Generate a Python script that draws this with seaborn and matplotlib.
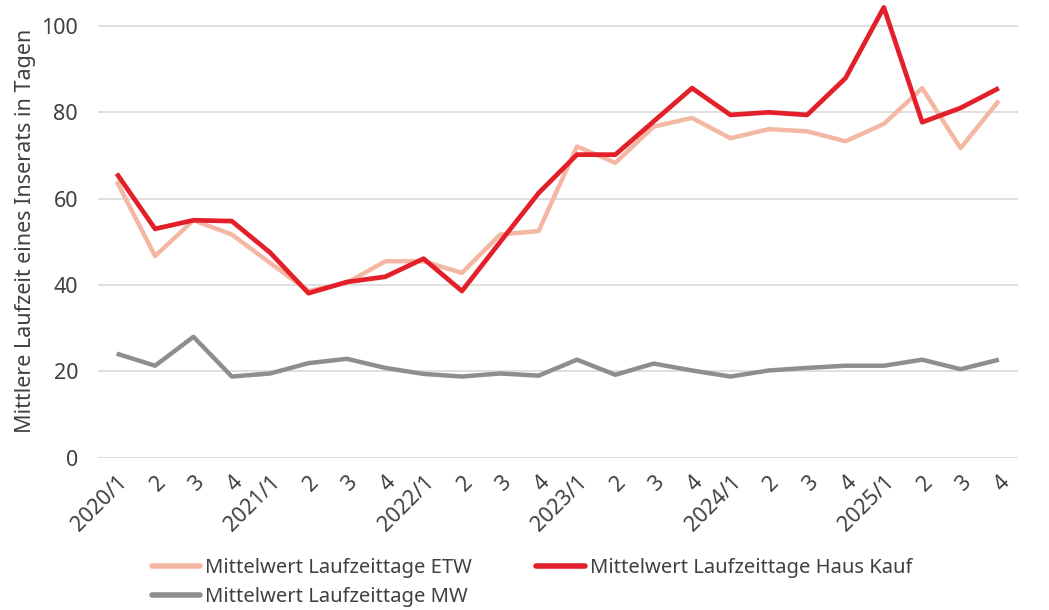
import numpy as np
import pandas as pd
import seaborn as sns
import matplotlib.pyplot as plt

quarters = ["2020/1", "2020/2", "2020/3", "2020/4",
            "2021/1", "2021/2", "2021/3", "2021/4",
            "2022/1", "2022/2", "2022/3", "2022/4",
            "2023/1", "2023/2", "2023/3", "2023/4",
            "2024/1", "2024/2", "2024/3", "2024/4",
            "2025/1", "2025/2", "2025/3", "2025/4"]
tick_labels = ["2020/1", "2", "3", "4", "2021/1", "2", "3", "4",
               "2022/1", "2", "3", "4", "2023/1", "2", "3", "4",
               "2024/1", "2", "3", "4", "2025/1", "2", "3", "4"]

etw = [64.0, 46.7, 55.0, 51.7, 45.1, 38.6, 40.5, 45.5, 45.5, 42.8, 51.7, 52.5,
       72.1, 68.3, 76.7, 78.7, 74.0, 76.1, 75.6, 73.3, 77.3, 85.6, 71.7, 82.7]
haus = [65.8, 53.0, 55.0, 54.8, 47.5, 38.1, 40.7, 41.9, 46.1, 38.6, 50.0, 61.3,
        70.2, 70.2, 77.9, 85.6, 79.4, 80.0, 79.4, 87.9, 104.3, 77.7, 81.0, 85.6]
mw = [24.1, 21.3, 28.0, 18.8, 19.5, 21.9, 22.9, 20.8, 19.4, 18.8, 19.5, 19.0,
      22.7, 19.2, 21.8, 20.2, 18.8, 20.2, 20.8, 21.3, 21.3, 22.7, 20.5, 22.7]

names = ["Mittelwert Laufzeittage ETW",
         "Mittelwert Laufzeittage Haus Kauf",
         "Mittelwert Laufzeittage MW"]
colors = ["#F4B7A3", "#E3202A", "#8E8E8E"]

idx = np.arange(len(quarters))
df = pd.concat([
    pd.DataFrame({"pos": idx, "Quartal": quarters, "Wert": vals, "Serie": n})
    for vals, n in zip([etw, haus, mw], names)
])

sns.set_style("white")
plt.rcParams['font.family'] = ['Noto Sans', 'DejaVu Sans']

fig = plt.figure(figsize=(10.49, 6.10), dpi=100)
ax = fig.add_axes([0.093, 0.2497, 0.8775, 0.7431])

sns.lineplot(data=df, x="pos", y="Wert", hue="Serie", hue_order=names,
             palette=dict(zip(names, colors)), linewidth=3.2, ax=ax,
             legend=False)
for line in ax.lines:
    line.set_solid_capstyle("butt")
# red line on top
ax.lines[1].set_zorder(3)
ax.lines[1].set_linewidth(3.4)

ax.set_xlim(-0.5, len(quarters) - 0.5)
ax.set_ylim(0, 105)
ax.set_yticks([0, 20, 40, 60, 80, 100])
ax.set_xticks(idx)
ax.set_xticklabels(tick_labels, rotation=45, ha="right", rotation_mode="anchor")
ax.tick_params(axis="both", length=0, labelsize=15.5, labelcolor="#404040")
ax.tick_params(axis="x", pad=10)
ax.tick_params(axis="y", pad=14)
ax.grid(axis="y", color="#D9D9D9", linewidth=1.2)
ax.set_axisbelow(True)
for s in ax.spines.values():
    s.set_visible(False)
ax.set_xlabel("")
ax.set_ylabel("Mittlere Laufzeit eines Inserats in Tagen", fontsize=15.5,
              color="#404040", labelpad=4)

handles = [plt.Line2D([], [], color=c, linewidth=4) for c in colors]
# column-major fill: ETW / MW in first column, Haus Kauf in second
order = [0, 2, 1]
fig.legend([handles[i] for i in order], [names[i] for i in order],
           loc="upper left", bbox_to_anchor=(0.137, 0.098), ncol=2,
           frameon=False, fontsize=14.5, labelcolor="#404040",
           handlelength=2.4, handletextpad=0.25, columnspacing=3.2,
           labelspacing=0.45, borderaxespad=0)

fig.savefig("out.png", dpi=100)
